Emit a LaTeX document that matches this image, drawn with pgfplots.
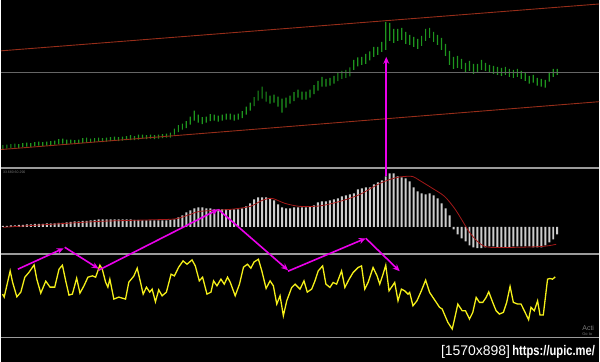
\documentclass[border=0pt]{standalone}
\usepackage{pgfplots}
\pgfplotsset{compat=1.18}
\usepackage{pgfplotstable}
\usepackage{graphicx}
\usepackage{fontspec}
\setmainfont{Liberation Sans}
\usetikzlibrary{arrows.meta}

\definecolor{pricegreen}{RGB}{30,150,30}
\definecolor{chan}{RGB}{150,45,25}
\definecolor{sep}{RGB}{155,155,155}
\definecolor{histc}{RGB}{205,205,205}
\definecolor{sig}{RGB}{165,25,25}
\definecolor{yel}{RGB}{245,240,25}
\definecolor{mag}{RGB}{235,0,235}
\definecolor{dimtxt}{RGB}{120,120,120}

% price bars: b = bottom of bar (363 - pixel row of low), h = bar length
\pgfplotstableread{
x b h
2 213.5 4
6 214 4
10 214.5 4
14 215 4
18 214.5 4
22 215.5 4
26 216 4
30 215.5 4
34 216.5 4
38 217 4
42 216.5 4
46 217 4
50 217.5 4
54 218 4
58 218.5 5
62 219 5
66 218 5
70 219 4
74 218.5 4
78 219 4
82 219.5 5
86 220 5
90 220 4
94 220.5 4
98 221 4
102 220.5 4
106 221 4
110 221.5 4
114 222 4
118 221.5 4
122 222 4
126 222.5 4
130 222.5 5
134 222.5 4
138 223 5
142 224 4
146 223.5 4
150 224 4
154 223.5 4
158 224 4
162 224.5 4
166 225 4
170 225 5
174 228 6
178 230.5 7
182 233 6
186 234.5 7
190 238 8
194 242 10
198 240 8
202 238.5 7
206 240 6
210 241.5 7
214 242 6
218 241 6
222 242 6
226 243 6
230 243 6
234 242 6
238 243 6
242 244.5 7
246 248 8
250 252 8
254 256.5 9
258 262 10
262 264 12
266 261 10
270 259 8
274 260 8
278 256 10
282 250 14
286 255 10
290 259 8
294 261.5 9
298 265 8
302 263 8
306 263 8
310 265 8
314 268.5 9
318 272 10
322 276 10
326 276 8
330 277 8
334 279 8
338 281.5 9
342 284 8
346 285 8
350 286.5 9
354 293 10
358 296.5 9
362 298 8
366 299 10
370 302.5 9
374 306 10
378 308 8
382 311 10
386 313 28
390 322 18
394 320 14
398 322 12
402 323 12
406 319 12
410 318 10
414 316 10
418 314 10
422 317 10
426 322 12
430 325 10
434 321 10
438 318 10
442 313 12
446 307 12
450 298 14
454 294 12
458 295 12
462 294 10
466 290 10
470 292 10
474 289 10
478 291 8
482 293 10
486 292 8
490 290 8
494 289 8
498 288 8
502 287 8
506 288 8
510 286 8
514 285 8
518 286 8
522 284 8
526 282 8
530 279 8
534 280 8
538 277 8
542 276 8
546 275 8
550 281 10
554 286 8
558 288 6
}\price

\pgfplotstableread{
x v
2 1
6 1
10 1.5
14 1.5
18 2
22 2
26 2.5
30 2.5
34 3
38 3
42 3
46 3.5
50 3.5
54 3.5
58 4
62 4
66 4.5
70 5
74 5.5
78 5.5
82 6
86 6
90 6.5
94 7
98 7.5
102 7.5
106 7.5
110 7.5
114 7.5
118 7.5
122 7.5
126 7.5
130 7.5
134 7
138 7
142 6.5
146 6.5
150 6.5
154 6.5
158 6.5
162 6.5
166 6.5
170 7
174 7.5
178 9.5
182 11.5
186 14.5
190 16.5
194 18.5
198 19.5
202 19.5
206 18.5
210 18.5
214 17.5
218 17.5
222 17.5
226 17.5
230 17.5
234 17.5
238 17.5
242 18.5
246 20.5
250 23.5
254 27.5
258 29.5
262 29.5
266 29.5
270 28.5
274 26.5
278 22.5
282 19.5
286 18.5
290 18.5
294 19.5
298 19.5
302 19.5
306 19.5
310 20.5
314 21.5
318 24.5
322 25.5
326 25.5
330 26.5
334 27.5
338 28.5
342 30.5
346 31.5
350 32.5
354 33.5
358 37.5
362 38.5
366 39.5
370 39.5
374 42.5
378 44.5
382 46.5
386 50.5
390 53.5
394 53.5
398 50.5
402 49.5
406 48.5
410 45.5
414 39.5
418 35.5
422 33.5
426 32.5
430 33.5
434 31.5
438 28.5
442 23.5
446 18.5
450 11.5
454 -2.5
458 -7.5
462 -11.5
466 -14.5
470 -18.5
474 -20.5
478 -21.5
482 -21.5
486 -20.5
490 -19.5
494 -19.5
498 -20.5
502 -20.5
506 -20.5
510 -20.5
514 -19.5
518 -19.5
522 -19.5
526 -19.5
530 -19.5
534 -20.5
538 -20.5
542 -20.5
546 -18.5
550 -15.5
554 -12.5
558 -7.5
}\hist

\pgfplotsset{panel/.style={at={(0,0)}, anchor=south west, scale only axis,
  width=600pt, height=363pt, xmin=0, xmax=600, hide axis, clip=false}}

\begin{document}
\begin{tikzpicture}
\fill[black] (0,0) rectangle (600pt,363pt);
% price bars (stacked: invisible base, green range)
\begin{axis}[panel, ymin=0, ymax=363, ybar stacked, bar width=1.2pt]
\addplot[draw=none, fill=none] table[x=x, y=b]{\price};
\addplot[draw=none, fill=pricegreen] table[x=x, y=h]{\price};
\end{axis}
% histogram panel (zero line at pixel row 227.5)
\begin{axis}[panel, ymin=-135.5, ymax=227.5]
\addplot[ybar, bar width=2pt, fill=histc, draw=none] table[x=x, y=v]{\hist};
\end{axis}
% everything else in pixel coordinates
\begin{axis}[panel, ymin=0, ymax=363, y dir=reverse]
% separators and reference lines
\addplot[sep, line width=1.8pt] coordinates {(0,168.5) (600,168.5)};
\addplot[sep, line width=1.8pt] coordinates {(0,254.5) (600,254.5)};
\addplot[black!60!white, line width=0.5pt] coordinates {(0,72) (600,72)};
\addplot[sep, line width=0.6pt] coordinates {(0,338.5) (600,338.5)};
% channel lines
\addplot[chan, line width=0.9pt] coordinates {(0,51) (600,4)};
\addplot[chan, line width=0.9pt] coordinates {(0,150) (600,102)};
% signal line
\addplot[sig, line width=0.8pt, smooth] coordinates {
(2,228)(50,225)(100,222)(150,220.5)(175,219.5)(190,215)(200,212)(230,210)(250,207)(262,201)(272,199)(285,204)(300,207)(320,206.5)(340,202)(360,195)(380,184)(395,178.5)(405,177)(413,177)(420,181)(433,189)(445,197)(455,209)(462,220)(470,233)(480,244)(490,248)(520,248)(545,247)(557,245)};
% oscillator
\addplot[yel, line width=1.3pt] coordinates {
(1.7,295)(3.3,298)(9.3,271.7)(11.7,283)(16,297.7)(20,293)(24,278)(28.3,273)(33.3,265.7)(36,280)(40,294)(45,282)(49.3,288)(54,288)(58.3,270)(61.7,266)(65,281.7)(68.3,296)(71.7,295)(76,279)(79.3,294)(83.3,286.7)(87.3,278)(91.7,276.7)(95,278)(99.3,266)(101.7,270)(105,283)(107.3,288)(109.3,280)(113.3,300)(118.3,298)(125,300)(128.3,283)(133.3,277)(136.7,269)(140,283)(142.7,295)(146,288)(149.3,293)(151.7,290)(155,302.7)(158.3,290.7)(161.7,296.7)(166,293)(170.7,275)(174,276.7)(178.3,268)(182.7,261.7)(186.7,265)(191.7,260.7)(195,266.7)(199,281.7)(202.3,278)(206.7,295)(210.7,293)(213.3,281.7)(216.7,286.7)(220.7,280)(224,285)(227.3,278)(230,283)(235,296.7)(239.3,285)(243.3,268)(247.3,265)(250.7,269)(254,262.7)(258.3,260)(261.7,271.7)(266,289.3)(270,281.7)(273.3,286.7)(276.7,305)(280,296.7)(283.3,316.7)(286.7,301.7)(291.7,288.3)(295,285)(300,290)(304,281.7)(307.3,293)(311.7,290)(315,281.7)(318.3,271.7)(322.7,266.7)(326,285)(330,288.3)(333.3,283.3)(336.7,285)(341.7,271.7)(345,288.3)(349.3,280)(353.3,273.3)(358.3,268.3)(361.7,266.7)(365,290)(368.3,283.3)(373.3,268.3)(377.3,276.7)(380,285)(383.3,275)(386,266)(389.3,291.7)(392.7,286.7)(395,283.3)(398.3,301.7)(401.7,290)(405,291.7)(408.3,295)(410,293.3)(413.3,306.7)(417.3,301.7)(421.7,291.7)(426,281)(430,293.3)(433.3,298.3)(436.7,303.3)(440,308.3)(442.7,310)(444,313.3)(448.3,323.3)(452.7,330)(455,320)(458.3,305)(462.7,311.7)(466,311.7)(470,320)(473.3,313.3)(476.7,298.3)(480,303.3)(483.3,303.3)(486.7,298.3)(489.3,292.7)(493.3,303.3)(496.7,311.7)(500,315)(504,313.3)(507.3,303.3)(510.7,287.3)(514,303.3)(518.3,305)(521.7,305)(525,311.7)(529.3,320.7)(531.7,308.3)(535,311.7)(538.3,301.7)(540.7,316)(544,316)(548.3,280)(550.7,279.3)(553.3,280)(556,277.7)};
% annotation arrows
\draw[mag, line width=1.6pt, -{Stealth[length=7pt,width=6pt]}] (axis cs:17,270) -- (axis cs:63,249);
\draw[mag, line width=1.6pt, -{Stealth[length=7pt,width=6pt]}] (axis cs:64,248) -- (axis cs:98,269.5);
\draw[mag, line width=1.6pt, -{Stealth[length=7pt,width=6pt]}] (axis cs:98,271) -- (axis cs:218,210);
\draw[mag, line width=1.6pt, -{Stealth[length=7pt,width=6pt]}] (axis cs:218,210) -- (axis cs:288,271);
\draw[mag, line width=1.6pt, -{Stealth[length=7pt,width=6pt]}] (axis cs:288,272) -- (axis cs:366,239);
\draw[mag, line width=1.6pt, -{Stealth[length=7pt,width=6pt]}] (axis cs:366,239) -- (axis cs:400,272);
\draw[mag, line width=1.6pt, -{Stealth[length=7pt,width=6pt]}] (axis cs:386.5,177) -- (axis cs:386.5,57);
% small texts
\node[anchor=west, inner sep=0pt, text=dimtxt, font=\fontsize{3.5}{4}\selectfont] at (axis cs:2,173) {33.680 60.290};
\node[anchor=west, inner sep=0pt, text=dimtxt, font=\fontsize{7}{7}\selectfont] at (axis cs:583,328.5) {Acti};
\node[anchor=west, inner sep=0pt, text=dimtxt, font=\fontsize{4}{4}\selectfont] at (axis cs:583,335.5) {Go to};
\node[anchor=east, inner sep=0pt, text=white, font=\fontsize{14}{14}\selectfont] at (axis cs:596,352.5) {[1570x898]\,\scalebox{0.8}[1]{\bfseries https://upic.me/}};
\end{axis}
\end{tikzpicture}
\end{document}
